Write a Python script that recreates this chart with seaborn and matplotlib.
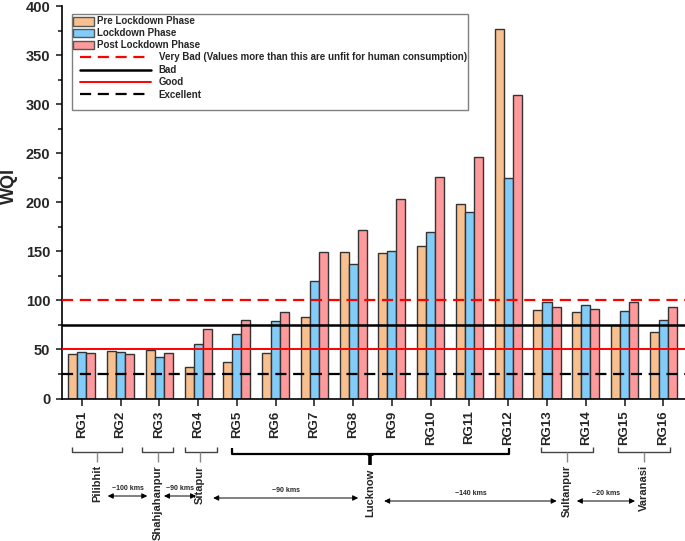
import pandas as pd
import seaborn as sns
import matplotlib.pyplot as plt
import matplotlib.transforms as mtransforms
from matplotlib.patches import Patch, Rectangle
from matplotlib.lines import Line2D

# data
sites = [f"RG{i}" for i in range(1, 17)]
pre_lockdown = [45.5, 48.5, 49.5, 32, 37, 46, 83, 149, 148.5, 155.5, 198, 376.5, 90.5, 88.5, 74.5, 68]
lockdown = [47.5, 47.5, 42, 56, 66, 79, 120, 137, 150.5, 170, 190, 225, 98, 95.5, 89.5, 80.5]
post_lockdown = [46.5, 45.5, 46.5, 70.5, 80, 88.5, 149, 172, 203, 226, 246, 309, 93.5, 91, 98.5, 93.5]
phases = ["Pre Lockdown Phase", "Lockdown Phase", "Post Lockdown Phase"]
phase_colors = ["#F8C08F", "#82CCFA", "#FF9A9C"]

# WQI classes
limit_values = [100, 75, 50, 25]
limit_labels = ["Very Bad (Values more than this are unfit for human consumption)",
                "Bad", "Good", "Excellent"]

# region groups: (name, bracket start, bracket end, stem position) in site index units
groups = [("Pilibhit", -0.25, 1.05, 0.40),
          ("Shahjahanpur", 1.55, 2.36, 1.96),
          ("Sitapur", 2.65, 3.48, 3.05),
          ("Sultanpur", 11.85, 13.18, 12.51),
          ("Varanasi", 13.84, 15.17, 14.50)]
distances = [("~100 kms", 0.67, 1.69, 496), ("~90 kms", 2.12, 2.95, 496),
             ("~90 kms", 3.39, 7.13, 498), ("~140 kms", 7.80, 12.25, 501),
             ("~20 kms", 12.77, 14.27, 501)]

W, H = 685, 541


def fy(py):
    return 1 - py / H


def main():
    sns.set_theme(style="ticks")
    plt.rcParams["font.family"] = ["Liberation Sans", "DejaVu Sans"]
    plt.rcParams["font.weight"] = "bold"

    df = pd.DataFrame({
        "site": sites * 3,
        "phase": [p for p in phases for _ in sites],
        "wqi": pre_lockdown + lockdown + post_lockdown,
    })

    fig = plt.figure(figsize=(W / 100, H / 100), dpi=100)
    ax = fig.add_axes([62 / W, fy(398.5), (W - 62) / W, (398.5 - 6) / H])

    sns.barplot(data=df, x="site", y="wqi", hue="phase", palette=phase_colors,
                width=0.7, saturation=1, edgecolor="#333333", linewidth=1,
                legend=False, ax=ax)

    styles = [dict(color="#FF0000", ls=(0, (5, 3)), lw=1.6),
              dict(color="black", ls="-", lw=1.8),
              dict(color="#FF0000", ls="-", lw=1.4),
              dict(color="black", ls=(0, (5, 3)), lw=1.6)]
    for v, st in zip(limit_values, styles):
        ax.axhline(v, zorder=4, **st)

    ax.set_ylim(0, 400)
    ax.set_xlim(-0.51, 15.56)
    ax.set_yticks(range(0, 401, 50))
    ax.set_yticks(range(25, 400, 50), minor=True)
    ax.set_xlabel("")
    ax.set_ylabel("")
    ax.tick_params(axis="y", which="major", length=4.5, width=1.2, pad=4, labelsize=10.5)
    ax.tick_params(axis="y", which="minor", length=3, width=1.2)
    ax.tick_params(axis="x", length=4.7, width=1.2, pad=4, labelsize=9.5, labelrotation=90)
    for lab in ax.get_xticklabels() + ax.get_yticklabels():
        lab.set_fontweight("bold")
    sns.despine(ax=ax, top=True, right=True)
    for s in ["left", "bottom"]:
        ax.spines[s].set_linewidth(1.2)
        ax.spines[s].set_color("black")

    fig.text(9 / W, fy(186), "WQI", rotation=90, ha="center", va="center",
             fontsize=13, fontweight="bold")

    # legend box with two parts
    ax.add_patch(Rectangle((71.7 / W, fy(110)), (468.3 - 71.7) / W, (110 - 14) / H,
                           transform=fig.transFigure, facecolor="white",
                           edgecolor="#808080", lw=1, zorder=5, clip_on=False))
    bar_handles = [Patch(facecolor=c, edgecolor="#555555", lw=1) for c in phase_colors]
    leg1 = ax.legend(bar_handles, phases, loc="upper left",
                     bbox_to_anchor=(73 / W, fy(16.5)), bbox_transform=fig.transFigure,
                     frameon=False, borderpad=0, borderaxespad=0,
                     handlelength=2.2, handleheight=1.0, handletextpad=0.3,
                     labelspacing=0.2, prop={"weight": "bold", "size": 7})
    leg1.set_zorder(6)
    ax.add_artist(leg1)
    line_handles = [Line2D([], [], **st) for st in styles]
    leg2 = ax.legend(line_handles, limit_labels, loc="upper left",
                     bbox_to_anchor=(80 / W, fy(52.5)), bbox_transform=fig.transFigure,
                     frameon=False, borderpad=0, borderaxespad=0,
                     handlelength=7.3, handletextpad=0.8, labelspacing=0.25,
                     prop={"weight": "bold", "size": 7})
    leg2.set_zorder(6)

    # site groups below the axis
    trans = mtransforms.blended_transform_factory(ax.transData, fig.transFigure)
    line_kw = dict(transform=trans, clip_on=False, solid_capstyle="butt")
    for name, x0, x1, xs in groups:
        ax.plot([x0, x0, x1, x1], [fy(446.7), fy(451.7), fy(451.7), fy(446.7)],
                color="#444444", lw=1, **line_kw)
        ax.plot([xs, xs], [fy(451.7), fy(461.7)], color="#888888", lw=1, **line_kw)
        ax.text(xs, fy(465), name, rotation=90, ha="center", va="top",
                fontsize=8, fontweight="bold", transform=trans)

    # Lucknow has the long heavy bracket
    ax.plot([3.87, 3.87, 11.02, 11.02], [fy(448), fy(454), fy(454), fy(448)],
            color="black", lw=1.6, solid_joinstyle="round", **line_kw)
    ax.plot([7.44, 7.44], [fy(453), fy(465)], color="black", lw=2.6, **line_kw)
    ax.plot([7.36, 7.52], [fy(454), fy(454)], color="black", lw=2.0, **line_kw)
    ax.text(7.44, fy(469), "Lucknow", rotation=90, ha="center", va="top",
            fontsize=8, fontweight="bold", transform=trans)

    for label, x0, x1, py in distances:
        ax.annotate("", xy=(x1, fy(py)), xytext=(x0, fy(py)), xycoords=trans,
                    textcoords=trans, annotation_clip=False,
                    arrowprops=dict(arrowstyle="<|-|>", color="black", lw=0.7,
                                    mutation_scale=8, shrinkA=0, shrinkB=0))
        ax.text((x0 + x1) / 2, fy(py - 4), label, ha="center", va="bottom",
                fontsize=5, fontweight="bold", transform=trans)

    ax.set_xlim(-0.51, 15.56)
    ax.set_ylim(0, 400)
    fig.savefig("out.png", dpi=100)
    plt.close(fig)


if __name__ == "__main__":
    main()
